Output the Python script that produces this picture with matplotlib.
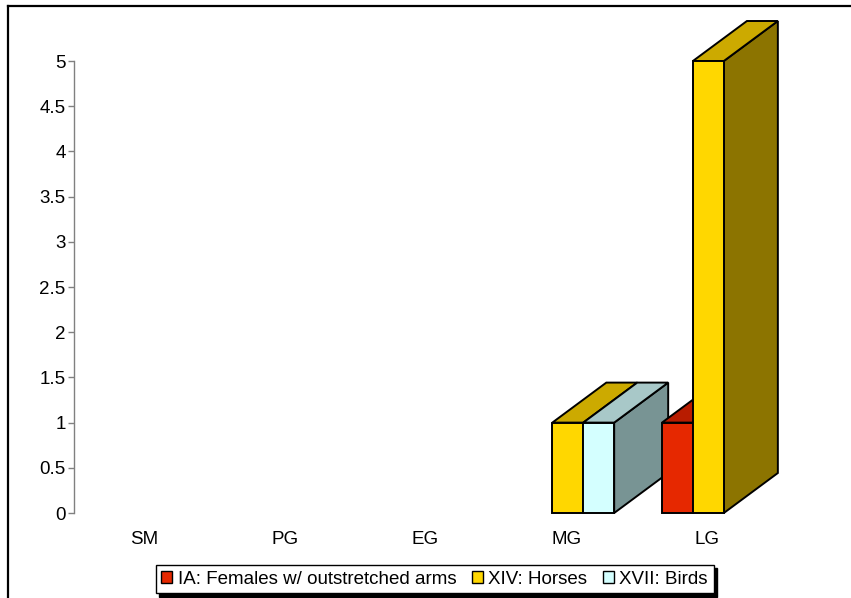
import matplotlib
matplotlib.use("Agg")
import matplotlib.pyplot as plt
from matplotlib.patches import Polygon, Patch
from matplotlib.lines import Line2D

# Data
categories = ["SM", "PG", "EG", "MG", "LG"]
series_names = ["IA: Females w/ outstretched arms", "XIV: Horses", "XVII: Birds"]
ia_values = [0, 0, 0, 0, 1]
xiv_values = [0, 0, 0, 1, 5]
xvii_values = [0, 0, 0, 1, 0]
y_ticks = [0, 0.5, 1, 1.5, 2, 2.5, 3, 3.5, 4, 4.5, 5]
y_tick_labels = ["0", "0.5", "1", "1.5", "2", "2.5", "3", "3.5", "4", "4.5", "5"]

# Face colours per series: (front, top, side)
face_colors = [
    ("#e62800", "#b81c00", "#8a1400"),
    ("#ffd700", "#ccaa00", "#8c7400"),
    ("#d4ffff", "#a8c8c8", "#789494"),
]
all_values = [ia_values, xiv_values, xvii_values]

plt.rcParams["font.family"] = ["Liberation Sans", "DejaVu Sans"]

W, H = 851, 598
fig = plt.figure(figsize=(W / 100, H / 100), dpi=100)
fig.patch.set_facecolor("white")

# plot area in pixels
px_left, px_right = 74, 777
px_bottom, px_top = 513, 61
ax = fig.add_axes([px_left / W, (H - px_bottom) / H,
                   (px_right - px_left) / W, (px_bottom - px_top) / H])
ax.set_xlim(-0.5, len(categories) - 0.5)
ax.set_ylim(0, 5)
ax.patch.set_alpha(0)

unit_x = (px_right - px_left) / len(categories)
unit_y = (px_bottom - px_top) / 5.0
depth_dx = 54 / unit_x
depth_dy = 40 / unit_y

bar_w = 0.22
offsets = [-bar_w * 1.5 + 0.012, -bar_w * 0.5 + 0.012, bar_w * 0.5 + 0.012]

z = 2
for ci in range(len(categories)):
    for si, vals in enumerate(all_values):
        v = vals[ci]
        if v <= 0:
            continue
        x0 = ci + offsets[si]
        x1 = x0 + bar_w
        front, top, side = face_colors[si]
        side_poly = [(x1, 0), (x1 + depth_dx, depth_dy), (x1 + depth_dx, v + depth_dy), (x1, v)]
        top_poly = [(x0, v), (x1, v), (x1 + depth_dx, v + depth_dy), (x0 + depth_dx, v + depth_dy)]
        front_poly = [(x0, 0), (x1, 0), (x1, v), (x0, v)]
        for poly, col in ((side_poly, side), (top_poly, top), (front_poly, front)):
            ax.add_patch(Polygon(poly, closed=True, facecolor=col, edgecolor="black",
                                 linewidth=1.4, joinstyle="miter", clip_on=False, zorder=z))
            z += 1

# Axes styling
for s in ("top", "right", "bottom"):
    ax.spines[s].set_visible(False)
ax.spines["left"].set_color("#808080")
ax.spines["left"].set_linewidth(1.0)
ax.set_yticks(y_ticks)
ax.set_yticklabels(y_tick_labels)
ax.tick_params(axis="y", direction="out", length=4, width=1.0, color="#808080",
               labelsize=13.5, pad=2)
ax.set_xticks(range(len(categories)))
ax.set_xticklabels(categories)
ax.tick_params(axis="x", length=0, labelsize=13.5, pad=13)

# Legend
handles = [Patch(facecolor=c[0], edgecolor="black", linewidth=1.0) for c in face_colors]
leg = fig.legend(handles, series_names, loc="center", bbox_to_anchor=(434.5 / W, 1 - 579 / H),
                 ncol=3, frameon=True, fancybox=False, edgecolor="black", framealpha=1,
                 fontsize=13.5, handlelength=0.6, handleheight=0.6, handletextpad=0.3,
                 columnspacing=0.8, borderpad=0.3,
                 shadow={"color": "black", "alpha": 1, "ox": 2.5, "oy": -2.5})
leg.get_frame().set_linewidth(1.0)

# Outer frame (top and left edges)
fig.add_artist(Line2D([7.5 / W, 1.0], [1 - 5.5 / H, 1 - 5.5 / H], color="black", linewidth=1.6,
                      transform=fig.transFigure))
fig.add_artist(Line2D([7.5 / W, 7.5 / W], [0, 1 - 5.5 / H], color="black", linewidth=1.6,
                      transform=fig.transFigure))

fig.savefig("out.png", dpi=100, facecolor="white")
